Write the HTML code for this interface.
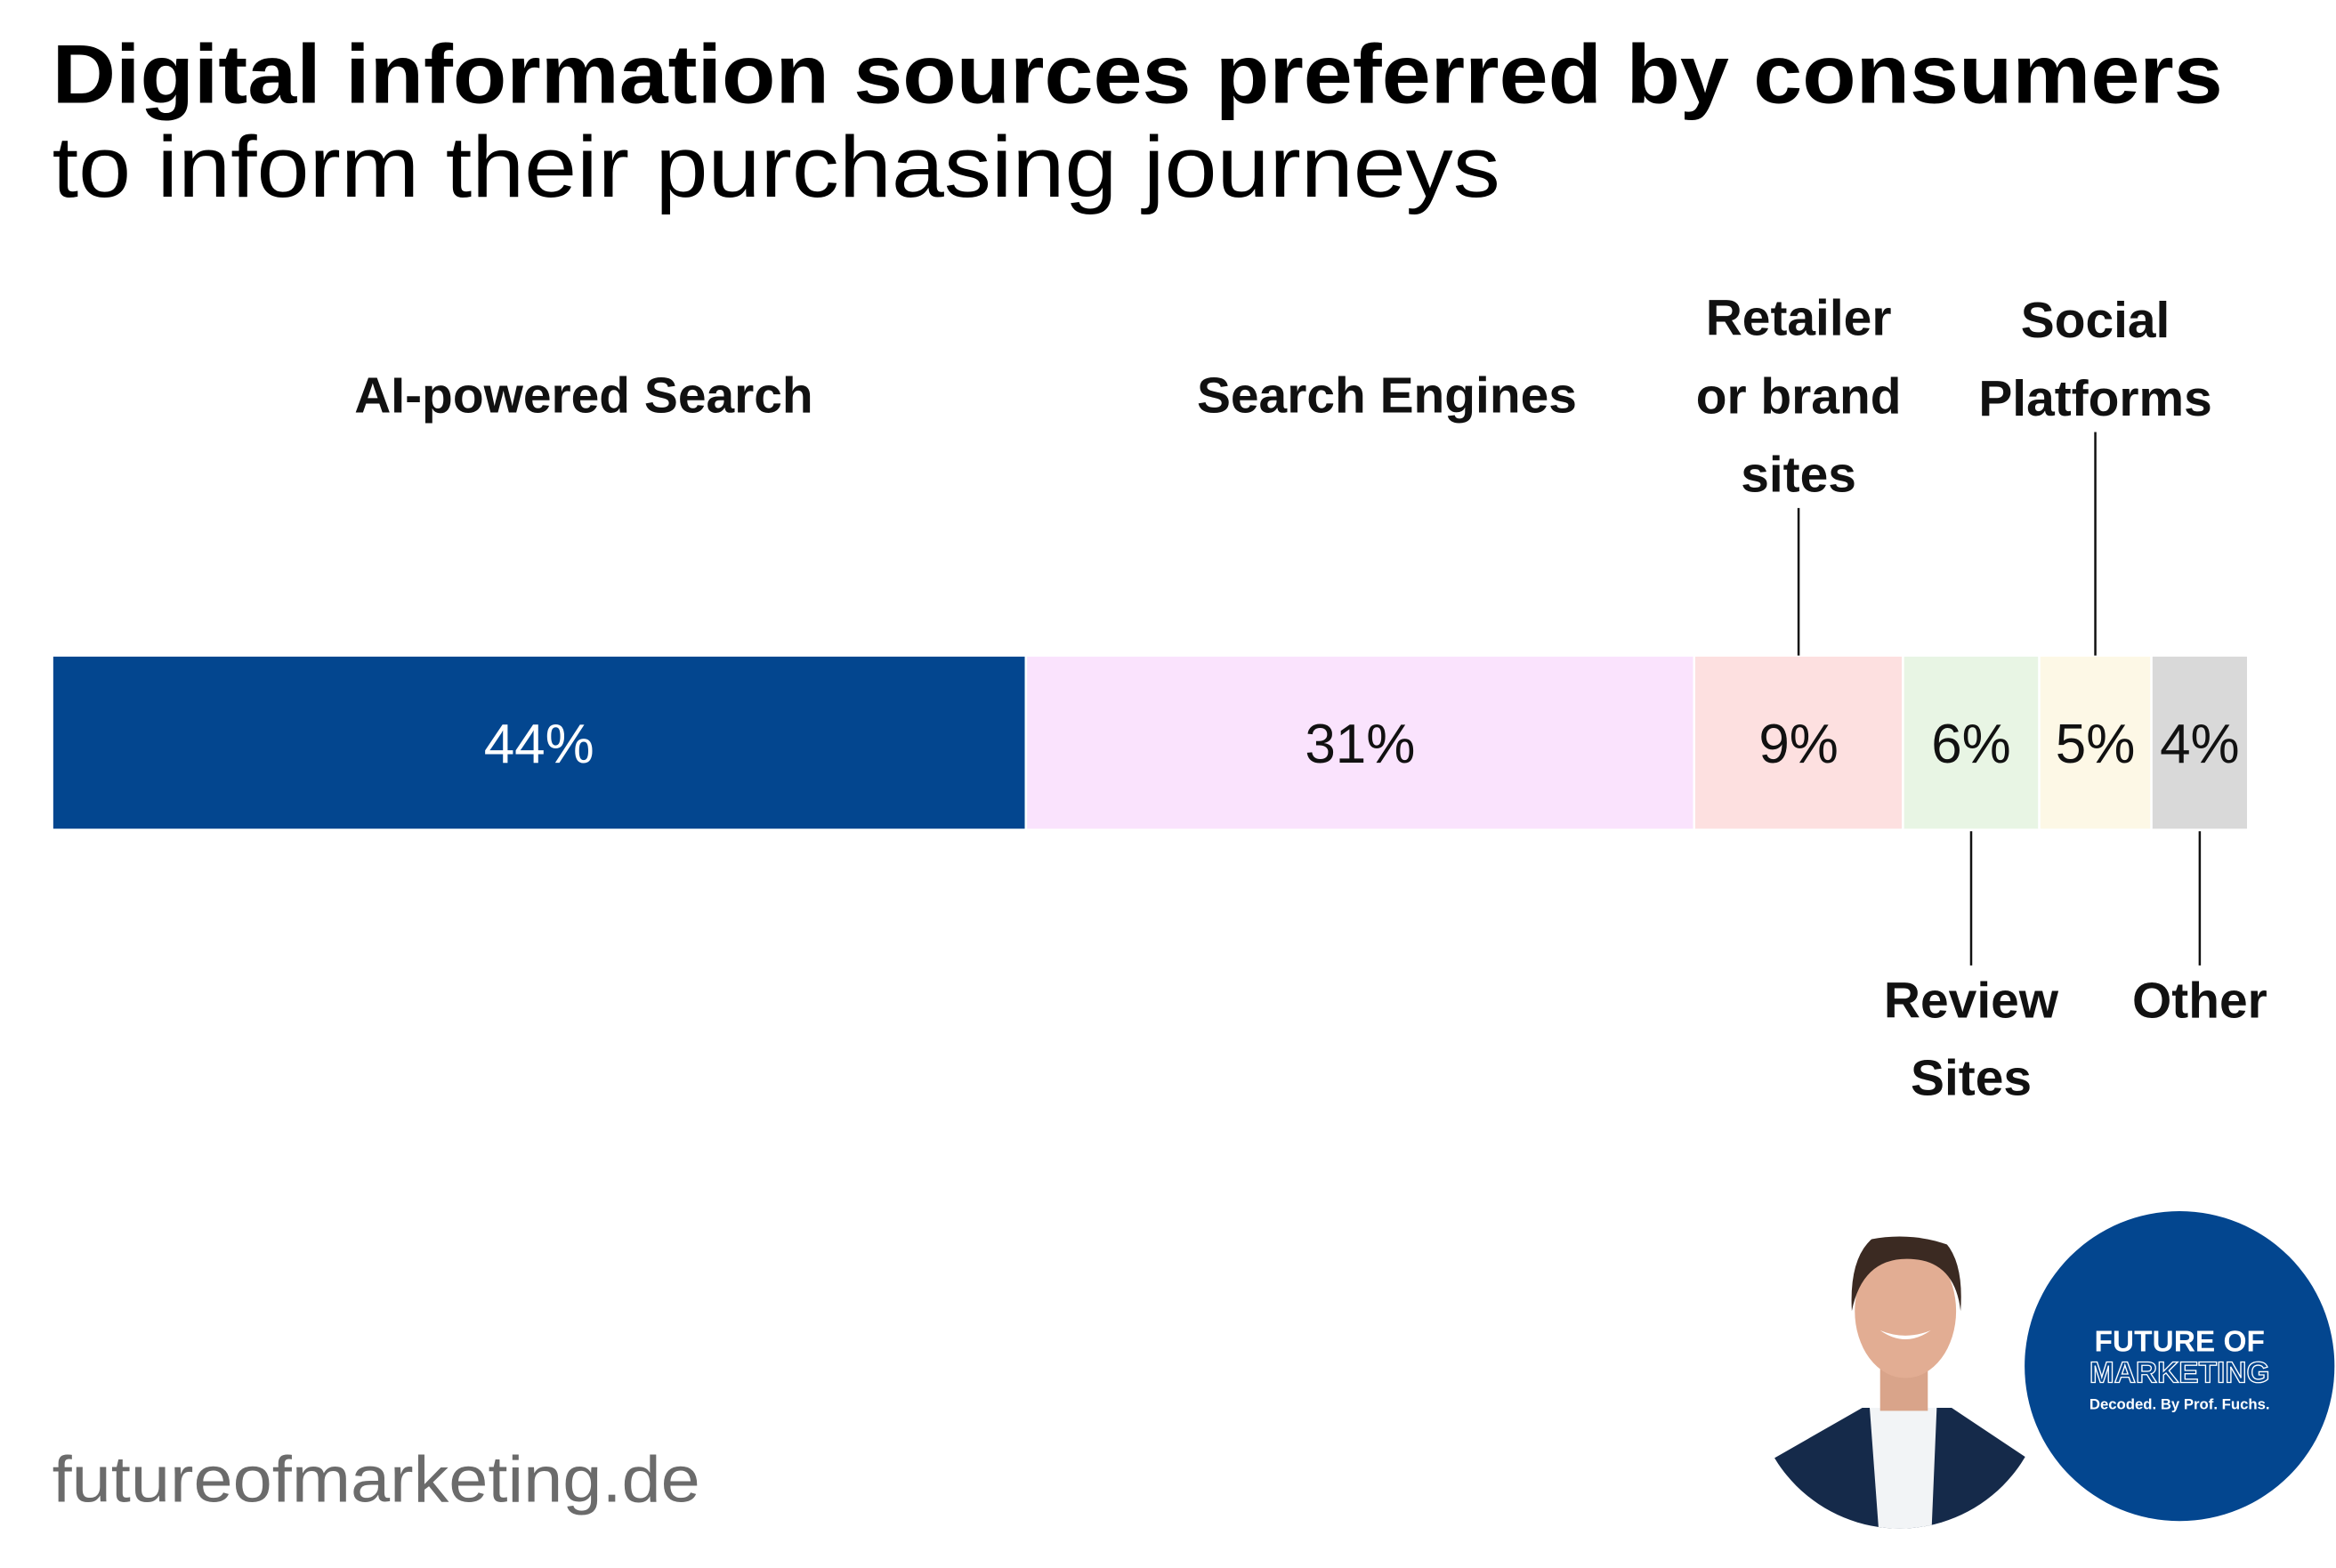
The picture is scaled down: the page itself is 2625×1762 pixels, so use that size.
<!DOCTYPE html>
<html><head><meta charset="utf-8"><style>
html,body{margin:0;padding:0;background:#fff}
svg{display:block}
text{font-family:"Liberation Sans",Arial,sans-serif}
</style></head><body>
<svg id="chart" width="2625" height="1762" viewBox="0 0 1568 1052.5" xmlns="http://www.w3.org/2000/svg">
<rect width="1568" height="1052.5" fill="#fff"/>
<text x="35" y="69" font-size="56" font-weight="bold" fill="#000" textLength="1457" lengthAdjust="spacingAndGlyphs">Digital information sources preferred by consumers</text>
<text x="35" y="132" font-size="58" fill="#000" textLength="972" lengthAdjust="spacingAndGlyphs">to inform their purchasing journeys</text>
<g id="bars"></g>
<g id="labels"></g>
<text x="35" y="1008" font-size="44" fill="#6b6b6b" textLength="435" lengthAdjust="spacingAndGlyphs">futureofmarketing.de</text>
<defs><clipPath id="pc"><circle cx="1275" cy="928" r="98"/></clipPath></defs>
<g clip-path="url(#pc)">
<rect x="1170" y="820" width="210" height="220" fill="#fff"/>
<path d="M1180 985 L1250 945 L1310 945 L1370 985 L1370 1040 L1180 1040Z" fill="#152a4a"/>
<path d="M1255 945 L1300 945 L1296 1040 L1262 1040Z" fill="#f2f4f6"/>
<rect x="1262" y="905" width="32" height="42" fill="#d9a48a"/>
<ellipse cx="1279" cy="880" rx="34" ry="45" fill="#e2ad93"/>
<path d="M1243 880 Q1240 825 1280 823 Q1320 825 1316 880 Q1312 845 1280 845 Q1250 845 1243 880Z" fill="#3b2a22"/>
<path d="M1262 893 Q1279 905 1296 893 Q1279 900 1262 893Z" fill="#fff"/>
</g>
<g>
<circle cx="1463" cy="917" r="104" fill="#03468f"/>
<text x="1463" y="907" font-size="20" font-weight="bold" fill="#fff" text-anchor="middle">FUTURE OF</text>
<text x="1463" y="928" font-size="20" font-weight="bold" fill="none" stroke="#fff" stroke-width="0.8" text-anchor="middle">MARKETING</text>
<text x="1463" y="946" font-size="10" font-weight="bold" fill="#fff" text-anchor="middle">Decoded. By Prof. Fuchs.</text>
</g>
<script>
const categories=["AI-powered Search","Search Engines","Retailer or brand sites","Review Sites","Social Platforms","Other"];
const values=[44.3,30.4,9.5,6.2,5.1,4.4];
const valueLabels=["44%","31%","9%","6%","5%","4%"];
const colors=["#03468f","#fae3fd","#fde0e0","#e8f5e4","#fdf8e6","#d9d9d9"];
const NS="http://www.w3.org/2000/svg";
const x0=35,x1=1509,yTop=440,yBot=557;
const total=values.reduce((a,b)=>a+b,0);
function xs(v){return x0+(x1-x0)*v/total;}
const bars=document.getElementById('bars'),labels=document.getElementById('labels');
const layout=[
 {pos:"above",lines:["AI-powered Search"],leader:false,dx:30},
 {pos:"above",lines:["Search Engines"],leader:false,dx:18},
 {pos:"above",lines:["Retailer","or brand","sites"],leader:true,dx:0},
 {pos:"below",lines:["Review","Sites"],leader:true,dx:0},
 {pos:"above",lines:["Social","Platforms"],leader:true,dx:0},
 {pos:"below",lines:["Other"],leader:true,dx:0}
];
function mk(tag,attrs){const e=document.createElementNS(NS,tag);for(const k in attrs)e.setAttribute(k,attrs[k]);return e;}
let cum=0;
values.forEach((v,i)=>{
 const a=xs(cum),b=xs(cum+v);cum+=v;
 const r=mk('rect',{x:a,y:yTop,width:b-a,height:yBot-yTop,fill:colors[i],stroke:"#fff","stroke-width":1.5});
 
 
 bars.appendChild(r);
 const cx=(a+b)/2;
 const t=mk('text',{x:cx,y:512,"font-size":37,"text-anchor":"middle",fill:i===0?"#fff":"#111"});
 t.textContent=valueLabels[i];
 
 
 bars.appendChild(t);
 const L=layout[i];const n=L.lines.length;const lx=cx+L.dx;
 let ys;
 if(L.pos==="above"){const last=(n===1)?277:(n===2?279:330);ys=L.lines.map((_,k)=>last-(n-1-k)*52.5);}
 else{ys=L.lines.map((_,k)=>683+k*52);}
 L.lines.forEach((s,k)=>{
  const tl=mk('text',{x:lx,y:ys[k],"font-size":34,"font-weight":"bold","text-anchor":"middle",fill:"#111"});
  tl.textContent=s;
  
  
  labels.appendChild(tl);
 });
 if(L.leader){
  const ly1=L.pos==="above"?ys[n-1]+11:yBot+1, ly2=L.pos==="above"?yTop:648;
  const ln=mk('line',{x1:cx,x2:cx,y1:ly1,y2:ly2,stroke:"#111","stroke-width":1.5});
  
  
  labels.appendChild(ln);
 }
});
</script>
</svg>
</body></html>
